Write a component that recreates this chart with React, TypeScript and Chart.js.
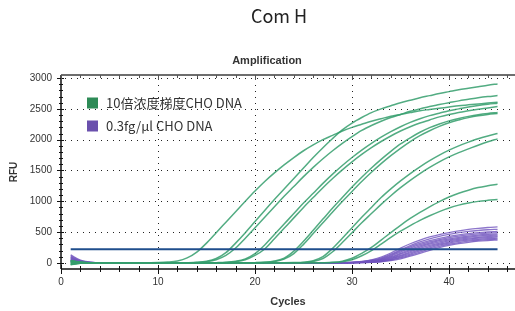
import React, { useEffect, useRef } from "react";
import { Chart, registerables } from "chart.js";

Chart.register(...registerables);

// ---------------- data ----------------
const chartTitle = "Com H";
const plotTitle = "Amplification";
const xAxisTitle = "Cycles";
const yAxisTitle = "RFU";
const legendLabels = ["10倍浓度梯度CHO DNA", "0.3fg/μl CHO DNA"];

const cycles = [
  1, 2, 3, 4, 5, 6, 7, 8, 9, 10, 11, 12, 13, 14, 15, 16, 17, 18, 19, 20, 21, 22, 23,
  24, 25, 26, 27, 28, 29, 30, 31, 32, 33, 34, 35, 36, 37, 38, 39, 40, 41, 42, 43, 44, 45,
];

const thresholdRFU = 222;

const xLabelTicks = [0, 10, 20, 30, 40];
const xMinorTicks = [0, 2, 4, 6, 8, 10, 12, 14, 16, 18, 20, 22, 24, 26, 28, 30, 32, 34, 36, 38, 40, 42, 44, 46];
const yLabelTicks = [0, 500, 1000, 1500, 2000, 2500, 3000];
const yMinorTicks = [
  0, 100, 200, 300, 400, 500, 600, 700, 800, 900, 1000, 1100, 1200, 1300, 1400, 1500, 1600,
  1700, 1800, 1900, 2000, 2100, 2200, 2300, 2400, 2500, 2600, 2700, 2800, 2900, 3000,
];

// 10-fold dilution series (green)
const greenA = [
  40, 10, 2, 0, 0, 1, 0, 2, 3, 5,
  12, 30, 80, 175, 320, 490, 660, 830, 1000, 1165,
  1320, 1460, 1590, 1710, 1820, 1915, 2000, 2070, 2140, 2200,
  2250, 2300, 2340, 2380, 2410, 2440, 2470, 2490, 2510, 2530,
  2550, 2565, 2580, 2595, 2608,
];
const greenB = [
  20, 5, 0, 0, 0, 0, 0, 0, 1, 0,
  1, 2, 3, 8, 25, 70, 165, 320, 490, 670,
  850, 1030, 1200, 1370, 1540, 1710, 1870, 2020, 2160, 2270,
  2360, 2440, 2500, 2550, 2600, 2640, 2680, 2715, 2750, 2780,
  2810, 2835, 2860, 2885, 2905,
];
const greenB2 = [
  -30, -8, -2, 0, 0, 0, 0, 0, 0, 0,
  0, 1, 2, 6, 18, 50, 120, 240, 400, 570,
  740, 910, 1080, 1240, 1400, 1550, 1690, 1820, 1940, 2050,
  2150, 2230, 2300, 2360, 2410, 2460, 2500, 2540, 2570, 2600,
  2630, 2655, 2680, 2700, 2716,
];
const greenC1 = [
  30, 8, 1, 0, 0, 0, 0, 0, 0, 0,
  0, 0, 0, 1, 1, 3, 8, 25, 65, 150,
  290, 460, 630, 800, 970, 1130, 1290, 1440, 1580, 1710,
  1830, 1940, 2040, 2130, 2210, 2280, 2340, 2390, 2430, 2470,
  2500, 2530, 2555, 2575, 2590,
];
const greenC2 = [
  -15, -4, 0, 0, 0, 0, 0, 0, 0, 0,
  0, 0, 0, 0, 1, 2, 6, 18, 50, 120,
  225, 390, 560, 730, 900, 1060, 1220, 1370, 1510, 1640,
  1760, 1870, 1970, 2060, 2140, 2210, 2270, 2320, 2370, 2410,
  2440, 2470, 2495, 2515, 2537,
];
const greenD1 = [
  10, 3, 0, 0, 0, 0, 0, 0, 0, 0,
  0, 0, 0, 0, 0, 0, 0, 1, 1, 3,
  10, 30, 75, 190, 350, 530, 710, 890, 1060, 1230,
  1390, 1540, 1680, 1810, 1930, 2030, 2120, 2195, 2255, 2305,
  2345, 2378, 2405, 2425, 2440,
];
const greenD2 = [
  -25, -6, -1, 0, 0, 0, 0, 0, 0, 0,
  0, 0, 0, 0, 0, 0, 0, 0, 1, 2,
  8, 22, 60, 150, 300, 475, 650, 825, 995, 1160,
  1320, 1470, 1610, 1740, 1860, 1970, 2065, 2145, 2215, 2275,
  2320, 2358, 2388, 2410, 2425,
];
const greenE1 = [
  35, 9, 2, 0, 0, 0, 0, 0, 0, 0,
  0, 0, 0, 0, 0, 0, 0, 0, 0, 0,
  0, 0, 1, 4, 10, 35, 100, 235, 400, 570,
  740, 900, 1060, 1200, 1330, 1450, 1560, 1660, 1750, 1830,
  1900, 1960, 2015, 2060, 2100,
];
const greenE2 = [
  0, 0, 0, 0, 0, 0, 0, 0, 0, 0,
  0, 0, 0, 0, 0, 0, 0, 0, 0, 0,
  0, 0, 0, 2, 6, 22, 70, 180, 330, 490,
  650, 800, 950, 1090, 1220, 1340, 1450, 1550, 1640, 1720,
  1790, 1850, 1910, 1965, 2013,
];
const greenF1 = [
  -20, -5, -1, 0, 0, 0, 0, 0, 0, 0,
  0, 0, 0, 0, 0, 0, 0, 0, 0, 0,
  0, 0, 0, 0, 0, 0, 2, 8, 28, 75,
  155, 250, 370, 490, 610, 720, 820, 910, 995, 1070,
  1130, 1180, 1222, 1252, 1277,
];
const greenF2 = [
  15, 4, 1, 0, 0, 0, 0, 0, 0, 0,
  0, 0, 0, 0, 0, 0, 0, 0, 0, 0,
  0, 0, 0, 0, 0, 0, 1, 5, 18, 50,
  115, 200, 305, 415, 515, 605, 690, 765, 832, 890,
  937, 972, 998, 1015, 1028,
];

// 0.3 fg/μl replicates (purple)
const purple1 = [
  130, 45, 12, 0, 0, 0, 0, 0, 0, 0, 0, 0, 0, 0, 0, 0, 0, 0, 0, 0, 0, 0, 0, 0, 0, 0, 0, 0,
  3, 10, 25, 50, 95, 160, 240, 310, 370, 420, 460, 492, 520, 543, 560, 574, 585,
];
const purple2 = [
  115, 38, 10, 0, 0, 0, 0, 0, 0, 0, 0, 0, 0, 0, 0, 0, 0, 0, 0, 0, 0, 0, 0, 0, 0, 0, 0, 0,
  2, 8, 20, 42, 80, 140, 210, 280, 340, 390, 430, 462, 490, 510, 525, 537, 545,
];
const purple3 = [
  100, 30, 8, 0, 0, 0, 0, 0, 0, 0, 0, 0, 0, 0, 0, 0, 0, 0, 0, 0, 0, 0, 0, 0, 0, 0, 0, 0,
  2, 6, 16, 35, 70, 125, 195, 260, 315, 360, 398, 430, 455, 475, 490, 501, 510,
];
const purple4 = [
  90, 25, 5, 0, 0, 0, 0, 0, 0, 0, 0, 0, 0, 0, 0, 0, 0, 0, 0, 0, 0, 0, 0, 0, 0, 0, 0, 0,
  1, 5, 14, 30, 60, 110, 175, 240, 295, 340, 378, 410, 435, 455, 470, 481, 490,
];
const purple5 = [
  80, 20, 4, 0, 0, 0, 0, 0, 0, 0, 0, 0, 0, 0, 0, 0, 0, 0, 0, 0, 0, 0, 0, 0, 0, 0, 0, 0,
  1, 4, 12, 26, 52, 95, 155, 220, 275, 322, 360, 390, 415, 435, 450, 461, 470,
];
const purple6 = [
  70, 15, 3, 0, 0, 0, 0, 0, 0, 0, 0, 0, 0, 0, 0, 0, 0, 0, 0, 0, 0, 0, 0, 0, 0, 0, 0, 0,
  0, 3, 10, 22, 45, 85, 140, 200, 255, 302, 340, 372, 398, 418, 433, 444, 452,
];
const purple7 = [
  60, 12, 2, 0, 0, 0, 0, 0, 0, 0, 0, 0, 0, 0, 0, 0, 0, 0, 0, 0, 0, 0, 0, 0, 0, 0, 0, 0,
  0, 3, 8, 18, 38, 72, 122, 180, 235, 283, 322, 355, 380, 400, 415, 427, 435,
];
const purple8 = [
  50, 8, 1, 0, 0, 0, 0, 0, 0, 0, 0, 0, 0, 0, 0, 0, 0, 0, 0, 0, 0, 0, 0, 0, 0, 0, 0, 0,
  0, 2, 6, 15, 32, 62, 108, 162, 215, 265, 305, 338, 364, 385, 400, 411, 420,
];
const purple9 = [
  40, 5, 0, 0, 0, 0, 0, 0, 0, 0, 0, 0, 0, 0, 0, 0, 0, 0, 0, 0, 0, 0, 0, 0, 0, 0, 0, 0,
  0, 2, 5, 12, 26, 52, 92, 142, 195, 245, 287, 320, 347, 368, 383, 394, 402,
];
const purple10 = [
  30, 3, 0, 0, 0, 0, 0, 0, 0, 0, 0, 0, 0, 0, 0, 0, 0, 0, 0, 0, 0, 0, 0, 0, 0, 0, 0, 0,
  0, 1, 4, 10, 22, 44, 80, 125, 175, 225, 268, 302, 330, 351, 367, 378, 386,
];
const purple11 = [
  20, 2, 0, 0, 0, 0, 0, 0, 0, 0, 0, 0, 0, 0, 0, 0, 0, 0, 0, 0, 0, 0, 0, 0, 0, 0, 0, 0,
  0, 1, 3, 8, 18, 36, 66, 108, 155, 203, 246, 282, 312, 334, 351, 362, 370,
];

const greenSeries = [greenA, greenB, greenB2, greenC1, greenC2, greenD1, greenD2, greenE1, greenE2, greenF1, greenF2];
const purpleSeries = [purple1, purple2, purple3, purple4, purple5, purple6, purple7, purple8, purple9, purple10, purple11];

// ---------------- styles ----------------
const GREEN_LINE = "rgba(52,158,108,0.85)";
const PURPLE_LINE = "rgba(112,84,190,0.8)";
const THRESHOLD_LINE = "#1f4e8c";
const GREEN_KEY = "#2e8b57";
const PURPLE_KEY = "#6a50ad";
const TEXT = "#333";

const overlay = {
  id: "overlay",
  beforeDatasetsDraw(chart: any) {
    const { ctx, chartArea: a, scales } = chart;
    const x = scales.x;
    const y = scales.y;
    ctx.save();
    ctx.strokeStyle = "#222";
    ctx.lineWidth = 1;
    ctx.setLineDash([1, 5]);
    for (const v of yLabelTicks) {
      const py = Math.round(y.getPixelForValue(v)) + 0.5;
      ctx.beginPath();
      ctx.moveTo(a.left + 4, py);
      ctx.lineTo(a.right, py);
      ctx.stroke();
    }
    for (const v of xLabelTicks) {
      if (v === 0) continue;
      const px = Math.round(x.getPixelForValue(v)) + 0.5;
      ctx.beginPath();
      ctx.moveTo(px, a.top + 4);
      ctx.lineTo(px, a.bottom);
      ctx.stroke();
    }
    ctx.restore();
  },
  afterDatasetsDraw(chart: any) {
    const { ctx, chartArea: a, scales } = chart;
    const x = scales.x;
    const y = scales.y;
    ctx.save();
    ctx.setLineDash([]);
    // top frame
    ctx.strokeStyle = "#6e6e6e";
    ctx.lineWidth = 2;
    ctx.beginPath();
    ctx.moveTo(a.left, a.top);
    ctx.lineTo(a.right, a.top);
    ctx.stroke();
    // left & bottom axes
    ctx.strokeStyle = "#111";
    ctx.lineWidth = 1.5;
    ctx.beginPath();
    ctx.moveTo(a.left, a.top);
    ctx.lineTo(a.left, a.bottom);
    ctx.moveTo(a.left, a.bottom);
    ctx.lineTo(a.right, a.bottom);
    ctx.stroke();
    // y ticks
    ctx.lineWidth = 1;
    for (const v of yMinorTicks) {
      const py = Math.round(y.getPixelForValue(v)) + 0.5;
      const major = v % 500 === 0;
      ctx.beginPath();
      ctx.moveTo(a.left - (major ? 4 : 2), py);
      ctx.lineTo(a.left + (major ? 3 : 2), py);
      ctx.stroke();
    }
    // x ticks (bottom and top)
    for (const v of xMinorTicks) {
      const px = Math.round(x.getPixelForValue(v)) + 0.5;
      const major = v % 10 === 0;
      ctx.strokeStyle = "#111";
      ctx.beginPath();
      ctx.moveTo(px, a.bottom - (major ? 4 : 3));
      ctx.lineTo(px, a.bottom + (major ? 5 : 3));
      ctx.stroke();
      ctx.strokeStyle = "#555";
      ctx.beginPath();
      ctx.moveTo(px, a.top);
      ctx.lineTo(px, a.top + (major ? 5 : 3));
      ctx.stroke();
    }
    ctx.restore();
  },
  afterDraw(chart: any) {
    const { ctx, chartArea: a } = chart;
    ctx.save();
    ctx.textBaseline = "middle";
    // main title
    ctx.fillStyle = "#222";
    ctx.font = '18px "Noto Sans CJK SC", "Noto Sans", sans-serif';
    ctx.textAlign = "center";
    ctx.fillText(chartTitle, 279, 16);
    // plot title
    ctx.fillStyle = TEXT;
    ctx.font = 'bold 11px "Liberation Sans", Arial, sans-serif';
    ctx.fillText(plotTitle, 267, 61);
    // x axis title
    ctx.fillText(xAxisTitle, (a.left + a.right) / 2, 302);
    // y axis title
    ctx.save();
    ctx.translate(14, (a.top + a.bottom) / 2);
    ctx.rotate(-Math.PI / 2);
    ctx.font = 'bold 10px "Liberation Sans", Arial, sans-serif';
    ctx.fillText(yAxisTitle, 0, 0);
    ctx.restore();
    // legend
    const keys = [GREEN_KEY, PURPLE_KEY];
    const rowsY = [102.5, 125.5];
    ctx.textAlign = "left";
    ctx.font = '13px "Noto Sans CJK SC", "Noto Sans", sans-serif';
    legendLabels.forEach((label, i) => {
      ctx.fillStyle = keys[i];
      ctx.fillRect(87, rowsY[i] - 5, 11, 11);
      ctx.fillStyle = TEXT;
      ctx.fillText(label, 106, rowsY[i] + 0.5);
    });
    ctx.restore();
  },
};

export default function App() {
  const canvasRef = useRef<HTMLCanvasElement | null>(null);

  useEffect(() => {
    const canvas = canvasRef.current;
    if (!canvas) return;
    const toPoints = (vals: number[]) => cycles.map((c, i) => ({ x: c, y: vals[i] }));

    const datasets: any[] = [
      {
        label: "Threshold",
        data: [
          { x: cycles[0], y: thresholdRFU },
          { x: cycles[cycles.length - 1], y: thresholdRFU },
        ],
        borderColor: THRESHOLD_LINE,
        borderWidth: 2,
        pointRadius: 0,
        tension: 0,
      },
      ...greenSeries.map((s, i) => ({
        label: `${legendLabels[0]} ${i + 1}`,
        data: toPoints(s),
        borderColor: GREEN_LINE,
        borderWidth: 1.5,
        pointRadius: 0,
        cubicInterpolationMode: "monotone",
      })),
      ...purpleSeries.map((s, i) => ({
        label: `${legendLabels[1]} ${i + 1}`,
        data: toPoints(s),
        borderColor: PURPLE_LINE,
        borderWidth: 1.3,
        pointRadius: 0,
        cubicInterpolationMode: "monotone",
      })),
    ];

    const tickFont = { family: '"Liberation Sans", Arial, sans-serif', size: 10 };

    const chart = new Chart(canvas, {
      type: "line",
      data: { datasets },
      options: {
        responsive: false,
        devicePixelRatio: 1,
        animation: false,
        events: [],
        layout: { padding: { top: 75, right: 0, bottom: 0, left: 0 } },
        plugins: {
          legend: { display: false },
          tooltip: { enabled: false },
          title: { display: false },
        },
        scales: {
          x: {
            type: "linear",
            min: 0,
            max: 46.8,
            grid: { display: false, drawTicks: false },
            border: { display: false },
            afterFit: (s: any) => {
              s.height = 42;
            },
            afterBuildTicks: (s: any) => {
              s.ticks = xLabelTicks.map((v) => ({ value: v }));
            },
            ticks: {
              font: tickFont,
              color: TEXT,
              padding: 7,
              maxRotation: 0,
              autoSkip: false,
              callback: (v: any) => String(v),
            },
          },
          y: {
            type: "linear",
            min: -100,
            max: 3050,
            grid: { display: false, drawTicks: false },
            border: { display: false },
            afterFit: (s: any) => {
              s.width = 61;
            },
            afterBuildTicks: (s: any) => {
              s.ticks = yLabelTicks.map((v) => ({ value: v }));
            },
            ticks: {
              font: tickFont,
              color: TEXT,
              padding: 9,
              autoSkip: false,
              callback: (v: any) => String(v),
            },
          },
        },
      },
      plugins: [overlay],
    } as any);

    return () => chart.destroy();
  }, []);

  return (
    <div style={{ position: "absolute", left: 0, top: 0, width: 515, height: 311, background: "#fff" }}>
      <canvas ref={canvasRef} width={515} height={311} style={{ display: "block" }} />
    </div>
  );
}
